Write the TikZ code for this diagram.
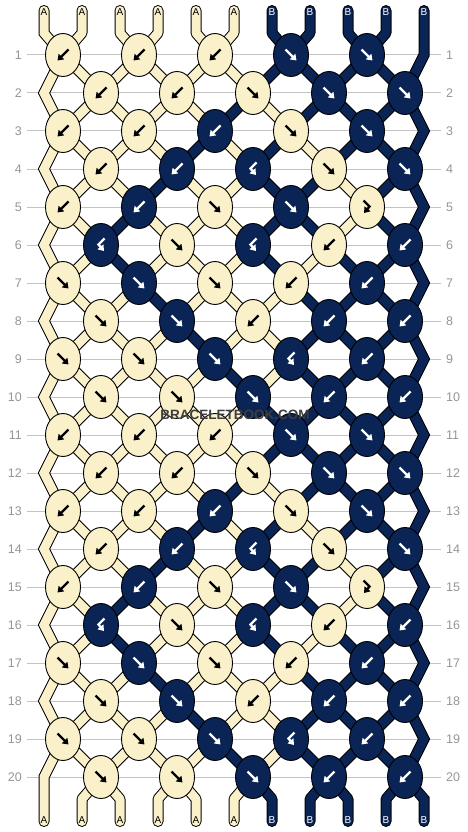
\documentclass[tikz,border=0pt]{standalone}
\usepackage{fontspec}
\setmainfont{Liberation Sans}
\usetikzlibrary{shapes.geometric,arrows.meta}
\definecolor{s0}{RGB}{250,240,201}
\definecolor{s1}{RGB}{10,36,86}
\colorlet{a0}{black}
\colorlet{a1}{white}
\colorlet{t0}{black}
\colorlet{t1}{white}
\definecolor{gridgrey}{RGB}{195,195,195}
\definecolor{numgrey}{RGB}{150,150,150}
\definecolor{wmgrey}{RGB}{62,62,62}
\tikzset{
  knot/.style={ellipse, draw=black, line width=0.9pt, minimum width=35pt, minimum height=43pt, inner sep=0pt},
  arr/.style={line width=2.4pt, -{Triangle[length=5.5pt,width=7.5pt]}},
  strout/.style={draw=black, line width=11pt, line cap=round, line join=round},
  strfill/.style={line width=9pt, line cap=round, line join=round},
  numlbl/.style={inner sep=0pt, text=numgrey, font=\fontsize{12.5}{13}\selectfont},
  endlbl/.style={inner sep=0pt, font=\fontsize{10}{10}\selectfont},
  gridline/.style={draw=gridgrey, line width=1pt},
}
\newcommand\glyphF{\draw[arr, color=a\c] (-5.5,-5.5) -- (5.5,5.5);}
\newcommand\glyphB{\draw[arr, color=a\c] (5.5,-5.5) -- (-5.5,5.5);}
\newcommand\glyphFB{\draw[arr, color=a\c] (-3.5,-6.5) -- (2.5,-0.5) -- (-3,6);}
\newcommand\glyphBF{\draw[arr, color=a\c] (3.5,-6.5) -- (-2.5,-0.5) -- (3,6);}
\newcommand\strseg[1]{%
  \ifnum\r=0 \draw[#1] (T-\p) -- (Tb-\p) -- (P-1-\p);%
  \else\ifnum\r=20 \draw[#1] (P-20-\p) -- (Bb-\p) -- (B-\p);%
  \else \pgfmathtruncatemacro\rn{\r+1}\draw[#1] (P-\r-\p) -- (P-\rn-\p);%
  \fi\fi}
\def\strdata{0/{0,0,0,0,0,0,1,1,1,1,1},1/{0,0,0,0,0,0,1,1,1,1,1},2/{0,0,0,0,0,1,0,1,1,1,1},3/{0,0,0,0,1,0,1,0,1,1,1},4/{0,0,0,1,0,0,1,1,0,1,1},5/{0,0,1,0,0,0,1,1,0,1,1},6/{0,0,1,0,0,0,1,0,1,1,1},7/{0,0,0,1,0,0,0,1,1,1,1},8/{0,0,0,0,1,0,0,1,1,1,1},9/{0,0,0,0,0,1,0,1,1,1,1}}
\def\knotdata{1/{B/0,B/0,B/0,F/1,F/1},2/{B/0,B/0,F/0,F/1,F/1},3/{B/0,B/0,B/1,F/0,F/1},4/{B/0,B/1,BF/1,F/0,F/1},5/{B/0,B/1,F/0,F/1,FB/0},6/{BF/1,F/0,BF/1,B/0,B/1},7/{F/0,F/1,F/0,B/0,B/1},8/{F/0,F/1,B/0,B/1,B/1},9/{F/0,F/0,F/1,BF/1,B/1},10/{F/0,F/0,F/1,B/1,B/1}}
\begin{document}
\begin{tikzpicture}[x=1pt,y=-1pt]
\fill[white] (0,0) rectangle (468,832);
\useasboundingbox (0,0) rectangle (468,832);
% string positions
\foreach \r in {1,...,20}{
  \foreach \p in {1,...,11}{
    \pgfmathtruncatemacro\ki{mod(\p+\r,2)==0 ? \p : \p-1}
    \pgfmathsetmacro\xx{\ki==0 ? 44+38*(\p-1) : (\ki==11 ? 44+38*(\p-1) : 63+38*(\ki-1))}
    \coordinate (P-\r-\p) at (\xx,{55+38*(\r-1)});
  }
}
\foreach \p in {1,...,11}{
  \pgfmathsetmacro\xx{44+38*(\p-1)}
  \coordinate (T-\p) at (\xx,10.5);
  \coordinate (Tb-\p) at (\xx,33);
  \coordinate (Bb-\p) at (\xx,799);
  \coordinate (B-\p) at (\xx,821.5);
}
% row numbers and grid lines
\foreach \r in {1,...,20}{
  \node[numlbl, anchor=east] (L-\r) at (22,{55+38*(\r-1)}) {\r};
  \node[numlbl, anchor=west] (R-\r) at (446,{55+38*(\r-1)}) {\r};
  \draw[gridline] ([xshift=5pt]L-\r.east) -- ([xshift=-5pt]R-\r.west);
}
% string outlines
\draw[strout, line join=miter] (T-1) -- (Tb-1) \foreach \r in {1,...,20}{ -- (P-\r-1)} -- (Bb-1) -- (B-1);
\draw[strout, line join=miter] (T-11) -- (Tb-11) \foreach \r in {1,...,20}{ -- (P-\r-11)} -- (Bb-11) -- (B-11);
\foreach \m/\lst in \strdata{
  \foreach \off in {0,10,20}{
    \pgfmathtruncatemacro\r{\m+\off}
    \ifnum\r<21
      \foreach \c [count=\p] in \lst {
        \ifnum\p>1 \ifnum\p<11 \strseg{strout}\fi\fi
      }
    \fi
  }
}
% string fills
\draw[strfill, color=s0, line join=miter] (T-1) -- (Tb-1) \foreach \r in {1,...,20}{ -- (P-\r-1)} -- (Bb-1) -- (B-1);
\draw[strfill, color=s1, line join=miter] (T-11) -- (Tb-11) \foreach \r in {1,...,20}{ -- (P-\r-11)} -- (Bb-11) -- (B-11);
\foreach \m/\lst in \strdata{
  \foreach \off in {0,10,20}{
    \pgfmathtruncatemacro\r{\m+\off}
    \ifnum\r<21
      \foreach \c [count=\p] in \lst {
        \ifnum\p>1 \ifnum\p<11 \strseg{strfill, color=s\c}\fi\fi
      }
    \fi
  }
}
% knots
\foreach \m/\lst in \knotdata{
  \foreach \off in {0,10}{
    \pgfmathtruncatemacro\r{\m+\off}
    \foreach \t/\c [count=\k] in \lst {
      \pgfmathtruncatemacro\ki{mod(\r,2)==1 ? 2*\k-1 : 2*\k}
      \node[knot, fill=s\c] (K-\r-\k) at (P-\r-\ki) {};
      \begin{scope}[shift={(K-\r-\k.center)}]
        \csname glyph\t\endcsname
      \end{scope}
    }
  }
}
% end labels
\foreach \p/\c/\s in {1/0/A,2/0/A,3/0/A,4/0/A,5/0/A,6/0/A,7/1/B,8/1/B,9/1/B,10/1/B,11/1/B}{
  \node[endlbl, text=t\c] (TL-\p) at ({44+38*(\p-1)},12.5) {\s};
  \node[endlbl, text=t\c] (BL-\p) at ({44+38*(\p-1)},820) {\s};
}
% watermark
\node[text=wmgrey, font=\bfseries\fontsize{13.5}{14}\selectfont] (wm) at (235,415) {BRACELETBOOK.COM};
\end{tikzpicture}
\end{document}
